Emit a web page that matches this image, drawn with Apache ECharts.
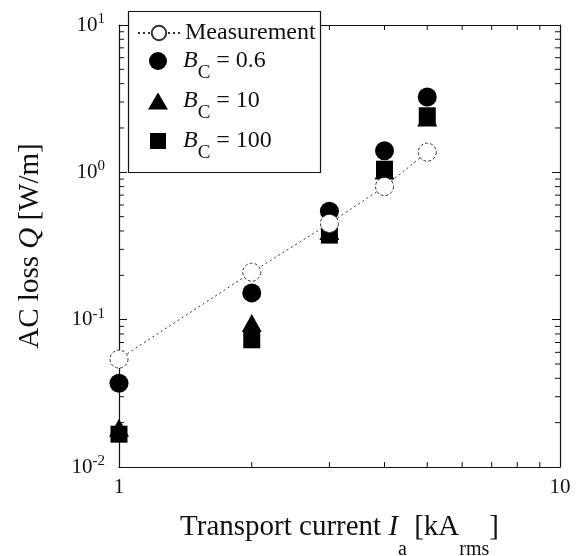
<!DOCTYPE html>
<html><head><meta charset="utf-8">
<script src="https://cdn.jsdelivr.net/npm/echarts@6/dist/echarts.min.js"></script>
<style>html,body{margin:0;padding:0;background:#fff}#c{width:582px;height:556px}</style>
</head><body><div id="c"></div>
<script>
const currents = [1, 2, 3, 4, 5];
const measurement = [0.054, 0.21, 0.45, 0.80, 1.37];
const bc06 = [0.037, 0.152, 0.545, 1.40, 3.25];
const bc10 = [0.0185, 0.095, 0.40, 1.03, 2.36];
const bc100 = [0.0167, 0.073, 0.375, 1.05, 2.42];
const xTicks = [1, 10];
const yTicks = [0.01, 0.1, 1, 10];
const xMinor = [2, 3, 4, 5, 6, 7, 8, 9];
const yMinor = [0.02,0.03,0.04,0.05,0.06,0.07,0.08,0.09,0.2,0.3,0.4,0.5,0.6,0.7,0.8,0.9,2,3,4,5,6,7,8,9];
const legendLabels = {
  Measurement: '{t|Measurement}',
  bc06: '{i|B}{c|C}{u| = 0.6}',
  bc10: '{i|B}{c|C}{u| = 10}',
  bc100: '{i|B}{c|C}{u| = 100}'
};

const FONT = 'Liberation Serif';
const INK = '#111';
const pair = (xs, ys) => xs.map((x, i) => [x, ys[i]]);
const minorData = xMinor.map(v => [v, 1, 0]).concat(yMinor.map(v => [1, v, 1]));

function legendRich(padLeft) {
  return {
    t: {fontSize: 24, lineHeight: 24, fontFamily: FONT, color: INK, verticalAlign: 'bottom'},
    i: {fontSize: 24, lineHeight: 24, fontFamily: FONT, fontStyle: 'italic', color: INK, verticalAlign: 'bottom', padding: [0, 0, 0, padLeft]},
    c: {fontSize: 19, lineHeight: 19, fontFamily: FONT, color: INK, verticalAlign: 'bottom', padding: [0, 0, -10, 0]},
    u: {fontSize: 24, lineHeight: 24, fontFamily: FONT, color: INK, verticalAlign: 'bottom'}
  };
}
function makeLegend(name, left, top, w, h, padLeft) {
  return {
    orient: 'vertical', left: left, top: top, padding: 0, z: 20,
    itemWidth: w, itemHeight: h, itemGap: 0,
    data: [name],
    formatter: n => legendLabels[n],
    textStyle: {color: INK, fontFamily: FONT, rich: legendRich(padLeft)}
  };
}

const chart = echarts.init(document.getElementById('c'));
const axisCommon = {
  type: 'log', logBase: 10,
  axisLine: {lineStyle: {color: INK, width: 1.2}},
  axisTick: {inside: true, length: 8, lineStyle: {color: INK}},
  splitLine: {show: false},
  minorTick: {show: false}
};
chart.setOption({
  animation: false,
  textStyle: {fontFamily: FONT},
  grid: {left: 119, right: 22, top: 25, bottom: 89, outerBoundsMode: 'none', containLabel: false},
  graphic: [{
    type: 'rect', z: 15, silent: true,
    shape: {x: 128.5, y: 11.5, width: 192, height: 161},
    style: {fill: '#fff', stroke: INK, lineWidth: 1.2}
  }],
  legend: [
    {
      orient: 'vertical', left: 137, top: 21, padding: 0, z: 20,
      itemWidth: 42, itemHeight: 18, itemGap: 0,
      data: ['Measurement'],
      formatter: n => legendLabels[n],
      textStyle: {color: INK, fontFamily: FONT, rich: legendRich(0)}
    },
    makeLegend('bc06', 149, 49, 18, 18, 11),
    makeLegend('bc10', 148, 89, 20, 17, 10),
    makeLegend('bc100', 150, 129, 16, 16, 12)
  ],
  xAxis: [
    Object.assign({}, axisCommon, {
      min: 1, max: 10, position: 'bottom',
      name: '{n|Transport current }{i|I}{s|a}{n| [kA}{s|rms}{n|]}',
      nameLocation: 'middle', nameGap: 59,
      nameTextStyle: {rich: {
        n: {fontSize: 29, lineHeight: 30, fontFamily: FONT, color: INK, verticalAlign: 'bottom', padding: [0, 0, 14, 0]},
        i: {fontSize: 29, lineHeight: 30, fontFamily: FONT, fontStyle: 'italic', color: INK, verticalAlign: 'bottom', padding: [0, 0, 14, 0]},
        s: {fontSize: 20, lineHeight: 20, fontFamily: FONT, color: INK, verticalAlign: 'bottom', padding: [0, 0, -4, 0]}
      }},
      axisLabel: {fontSize: 21, fontFamily: FONT, color: INK, margin: 10,
        formatter: v => (xTicks.includes(v) ? String(v) : '')}
    }),
    Object.assign({}, axisCommon, {
      min: 1, max: 10, position: 'top', axisLabel: {show: false}
    })
  ],
  yAxis: [
    Object.assign({}, axisCommon, {
      min: 0.01, max: 10, position: 'left',
      name: '{n|AC loss }{i|Q}{n| [W/m]}',
      nameLocation: 'middle', nameGap: 74, nameRotate: 90,
      nameTextStyle: {rich: {
        n: {fontSize: 29, fontFamily: FONT, color: INK},
        i: {fontSize: 29, fontFamily: FONT, fontStyle: 'italic', color: INK}
      }},
      axisLabel: {margin: 14, color: INK,
        formatter: v => '{b|10}{s|' + Math.round(Math.log10(v)) + '}',
        rich: {
          b: {fontSize: 21, fontFamily: FONT, color: INK},
          s: {fontSize: 15, fontFamily: FONT, color: INK, padding: [0, 0, 12, 0]}
        }}
    }),
    Object.assign({}, axisCommon, {
      min: 0.01, max: 10, position: 'right', axisLabel: {show: false}
    })
  ],
  series: [
    {
      type: 'custom', name: 'minor', silent: true, clip: false,
      data: minorData, encode: {x: 0, y: 1},
      renderItem: (params, api) => {
        const kind = api.value(2);
        const L = 5;
        const st = {stroke: INK, lineWidth: 1};
        if (kind === 0) {
          const v = api.value(0);
          const b = api.coord([v, 0.01]), t = api.coord([v, 10]);
          return {type: 'group', children: [
            {type: 'line', shape: {x1: b[0], y1: b[1], x2: b[0], y2: b[1] - L}, style: st},
            {type: 'line', shape: {x1: t[0], y1: t[1], x2: t[0], y2: t[1] + L}, style: st}
          ]};
        }
        const v = api.value(1);
        const l = api.coord([1, v]), r = api.coord([10, v]);
        return {type: 'group', children: [
          {type: 'line', shape: {x1: l[0], y1: l[1], x2: l[0] + L, y2: l[1]}, style: st},
          {type: 'line', shape: {x1: r[0], y1: r[1], x2: r[0] - L, y2: r[1]}, style: st}
        ]};
      }
    },
    {
      type: 'scatter', name: 'bc100', data: pair(currents, bc100),
      symbol: 'rect', symbolSize: 17, itemStyle: {color: '#000', opacity: 1}
    },
    {
      type: 'scatter', name: 'bc10', data: pair(currents, bc10),
      symbol: 'triangle', symbolSize: [20, 18], itemStyle: {color: '#000', opacity: 1}
    },
    {
      type: 'scatter', name: 'bc06', data: pair(currents, bc06),
      symbol: 'circle', symbolSize: 19, itemStyle: {color: '#000', opacity: 1}
    },
    {
      type: 'line', name: 'Measurement', data: pair(currents, measurement),
      symbol: 'circle', symbolSize: 18, showAllSymbol: true,
      lineStyle: {color: '#333', width: 1, type: [2, 3]},
      itemStyle: {color: '#fff', borderColor: '#333', borderWidth: 1, borderType: [3, 2]},
      z: 5
    }
  ]
});
</script></body></html>
